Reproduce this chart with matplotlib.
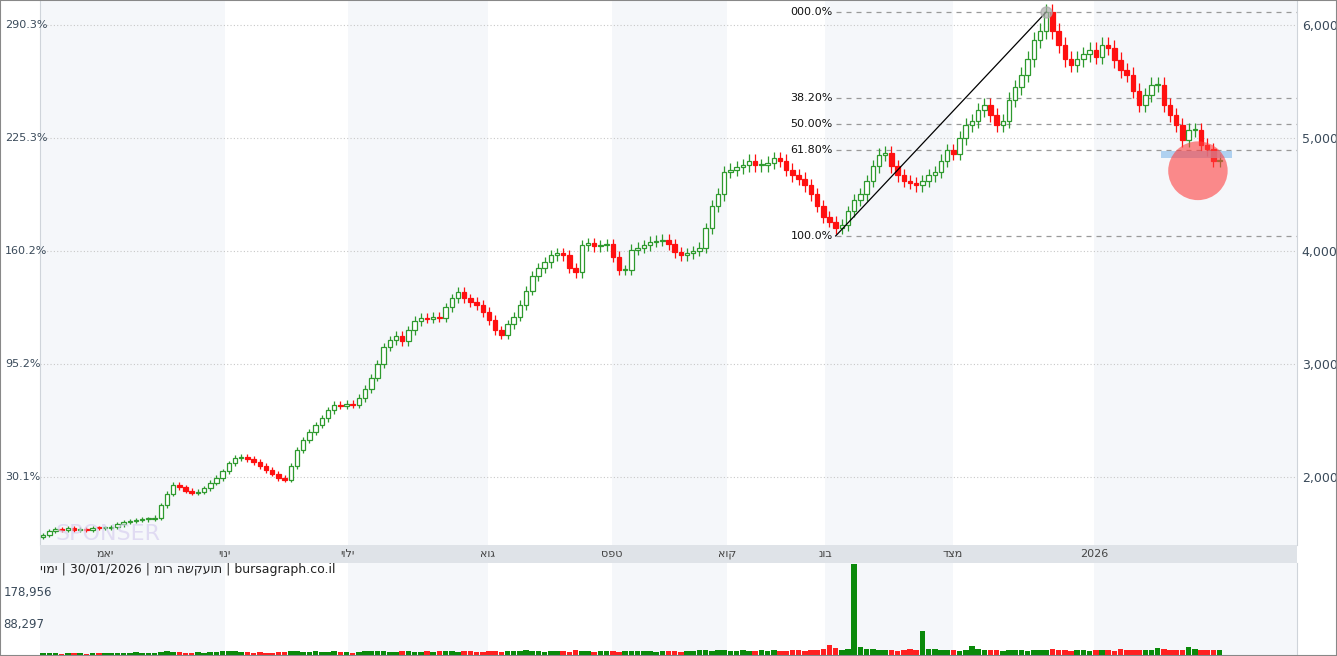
import numpy as np
import matplotlib.pyplot as plt
from matplotlib.patches import Rectangle, Ellipse

# daily closes, May 2025 - 30/01/2026
closes = [1490, 1520, 1540, 1535, 1545, 1530, 1540, 1535, 1550, 1545, 1550,
          1560, 1580, 1600, 1610, 1620, 1625, 1630, 1640,
          1750, 1850, 1930, 1910, 1880, 1860,
          1870, 1900, 1950, 1990, 2050, 2120, 2170,
          2180, 2160, 2130, 2100, 2060,
          2030, 1990, 1975, 2100, 2240,
          2330, 2400, 2460, 2520, 2590, 2640,
          2630, 2650, 2640, 2700, 2780, 2880,
          3000, 3150, 3210, 3250, 3200,
          3300, 3380, 3410, 3400, 3420, 3410,
          3500, 3580, 3640, 3580, 3550, 3520,
          3460, 3390, 3300, 3260,
          3350, 3420, 3520, 3650, 3780, 3850, 3900,
          3960, 3980, 3960, 3850, 3810, 4050,
          4070, 4040, 4050, 4060, 3950, 3830, 3830,
          4010, 4030, 4050, 4080, 4090, 4100,
          4060, 3990, 3960, 3980, 4000, 4030,
          4200, 4400, 4500, 4700, 4720, 4740, 4760,
          4800, 4760, 4760, 4780, 4820, 4800, 4720,
          4670, 4640, 4580, 4500, 4400, 4300, 4260, 4200,
          4230, 4350, 4450, 4500, 4620, 4750, 4850,
          4870, 4750, 4670, 4620, 4600, 4580,
          4620, 4670, 4700, 4800, 4890, 4860,
          5000, 5115, 5150, 5250, 5290, 5200,
          5115, 5150, 5340, 5450, 5560, 5700, 5870,
          5950, 6115, 5950, 5820, 5700, 5650,
          5700, 5740, 5780, 5720, 5820, 5800,
          5690, 5600, 5560, 5420, 5290, 5380,
          5470, 5470, 5290, 5200, 5115, 4980, 5070,
          5070, 4940, 4900, 4800, 4800]
first_open = 1470

volumes = [6000, 5000, 7000, 4000, 5000, 6000, 5000, 4000, 6000, 5000,
           6000, 5000, 7000, 6000, 5000, 8000, 6000, 5000, 6000, 9000,
           10000, 9000, 8000, 7000, 6000, 8000, 7000, 9000, 8000, 10000,
           12000, 11000, 9000, 8000, 7000, 8000, 6000, 7000, 8000, 9000,
           10000, 11000, 9000, 8000, 10000, 9000, 8000, 12000, 9000, 8000,
           7000, 9000, 10000, 11000, 12000, 10000, 9000, 8000, 10000, 11000,
           9000, 8000, 12000, 9000, 10000, 11000, 10000, 9000, 12000, 10000,
           9000, 8000, 11000, 10000, 9000, 12000, 11000, 10000, 14000, 12000,
           10000, 9000, 11000, 12000, 10000, 9000, 13000, 11000, 10000, 9000,
           12000, 11000, 10000, 9000, 11000, 10000, 12000, 11000, 10000, 9000,
           12000, 10000, 11000, 9000, 10000, 12000, 14000, 13000, 12000, 15000,
           14000, 12000, 11000, 13000, 12000, 11000, 14000, 12000, 13000, 11000,
           12000, 14000, 13000, 12000, 15000, 14000, 18000, 30000, 20000, 15000,
           16000, 262000, 22000, 18000, 16000, 15000, 14000, 13000, 12000, 14000,
           16000, 15000, 70000, 18000, 16000, 14000, 15000, 13000, 12000, 14000,
           26000, 16000, 15000, 14000, 13000, 12000, 14000, 15000, 13000, 12000,
           14000, 13000, 15000, 16000, 14000, 13000, 12000, 14000, 13000, 12000,
           15000, 14000, 13000, 12000, 16000, 15000, 14000, 13000, 15000, 14000,
           20000, 16000, 15000, 14000, 13000, 24000, 16000, 14000, 15000, 13000,
           14000]

month_labels = ["מאי", "יוני", "יולי", "אוג", "ספט", "אוק", "נוב", "דצמ", "2026"]
month_pos = [10, 29.3, 49.2, 71.8, 91.8, 110.5, 126.3, 146.9, 169.7]
band_edges = [-1, 29.3, 49.2, 71.8, 91.8, 110.5, 126.3, 146.9, 169.7, 203]
price_ticks = [2000, 3000, 4000, 5000, 6000]
base_price = 1537.25
vol_ticks = [88297, 178956]

fib_levels = [0.0, 0.382, 0.5, 0.618, 1.0]
fib_labels = ["000.0%", "38.20%", "50.00%", "61.80%", "100.0%"]
fib_high, fib_low = 6115, 4133
fib_start, fib_end = 128, 162

caption = "יומי | 30/01/2026 | מור השקעות | bursagraph.co.il"

n = len(closes)
opens = [first_open] + closes[:-1]
idx = np.arange(n)
up = [c >= o for o, c in zip(opens, closes)]
highs = [max(o, c) * 1.012 for o, c in zip(opens, closes)]
lows = [min(o, c) * 0.988 for o, c in zip(opens, closes)]

W, H = 1337, 656
fig = plt.figure(figsize=(W / 100, H / 100), dpi=100)
fig.patch.set_facecolor("white")
L, R = 40 / W, 1297 / W
ax = fig.add_axes([L, (H - 545) / H, R - L, 545 / H])
axt = fig.add_axes([L, (H - 563) / H, R - L, 18 / H])
axv = fig.add_axes([L, 0, R - L, (H - 563) / H])

xlim = (-0.5, 202.5)
for a in (ax, axt, axv):
    a.set_xlim(*xlim)
    for s in a.spines.values():
        s.set_visible(False)
    a.tick_params(length=0)
    a.set_xticks([])

for k in range(len(band_edges) - 1):
    if k % 2 == 0:
        for a in (ax, axv):
            a.axvspan(band_edges[k], band_edges[k + 1], color="#f5f7fa", zorder=0, lw=0)

ax.set_ylim(1398, 6221)
ax.set_yticks(price_ticks)
ax.yaxis.grid(True, linestyle=(0, (1, 2)), color="#c8c8c8", lw=0.8)
ax.set_axisbelow(True)
ax.yaxis.tick_right()
ax.set_yticklabels([f"{p:,}" for p in price_ticks], color="#3a4a5a", fontsize=9)
for p in price_ticks:
    ax.text(-0.028, p, f"{(p / base_price - 1) * 100:.1f}%", transform=ax.get_yaxis_transform(),
            ha="left", va="center", fontsize=8, color="#3a4a5a")
ax.spines["right"].set_visible(True)
ax.spines["right"].set_color("#cfd4da")
ax.spines["left"].set_visible(True)
ax.spines["left"].set_color("#cfd4da")

bw = 0.72
for i in range(n):
    col = "#2e9a2e" if up[i] else "#ff1010"
    ax.vlines(i, lows[i], highs[i], color=col, lw=0.9, zorder=2)
    b0 = min(opens[i], closes[i])
    hgt = max(abs(closes[i] - opens[i]), 8)
    ax.add_patch(Rectangle((i - bw / 2, b0), bw, hgt, facecolor="white" if up[i] else col,
                           edgecolor=col, lw=0.9, zorder=3))

# fibonacci
for lev, lab in zip(fib_levels, fib_labels):
    y = fib_high - lev * (fib_high - fib_low)
    ax.hlines(y, fib_start, xlim[1], colors="#999999", linestyles=(0, (4, 4)), lw=0.9, zorder=1)
    ax.text(fib_start - 0.5, y, lab, ha="right", va="center", fontsize=8, color="#111111")
ax.plot([fib_start, fib_end], [fib_low, fib_high], color="black", lw=0.9, zorder=4)
ax.plot([fib_end], [fib_high], "o", ms=8, color="#aaaaaa", alpha=0.7, zorder=4)
ax.add_patch(Rectangle((180.5, 4820), 11.5, 65, color="#9ec8ee", alpha=0.8, zorder=4, lw=0))
ax.add_patch(Ellipse((186.5, 4710), 9.6, 520, color="#ff4040", alpha=0.6, zorder=5, lw=0))
ax.text(2, 1410, "SPONSER", fontsize=16, color="#d8d0f0", alpha=0.7, ha="left", va="bottom")

axt.set_facecolor("#dfe3e8")
axt.set_yticks([])
for lab, pos in zip(month_labels, month_pos):
    axt.text(pos, 0.5, lab, ha="center", va="center", fontsize=8, color="#444444")

vcols = ["#0a8a0a" if u else "#ff2020" for u in up]
axv.bar(idx, volumes, width=0.9, color=vcols, zorder=2)
axv.set_ylim(-3000, 265000)
axv.set_yticks([])
for v in vol_ticks:
    axv.text(-0.029, v, f"{v:,}", transform=axv.get_yaxis_transform(), ha="left", va="center",
             fontsize=8.5, color="#3a4a5a")
axv.text(0, 0.93, caption, transform=axv.transAxes, ha="left", va="center", fontsize=9, color="#222222")
axv.spines["right"].set_visible(True)
axv.spines["right"].set_color("#cfd4da")

fig.add_artist(Rectangle((0, 0), 1, 1, transform=fig.transFigure, fill=False, edgecolor="#888888", lw=1.5))
fig.savefig("out.png", dpi=100)
